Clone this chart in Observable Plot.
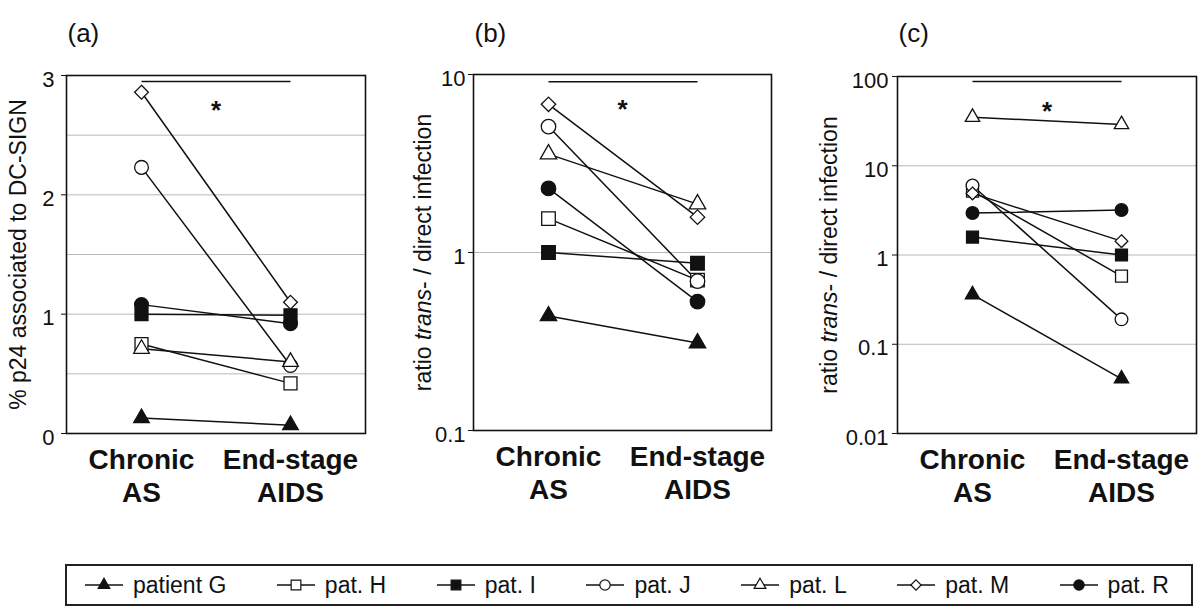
<!DOCTYPE html>
<html><head><meta charset="utf-8">
<script src="https://cdn.jsdelivr.net/npm/d3@7"></script>
<script src="https://cdn.jsdelivr.net/npm/@observablehq/plot@0.6"></script>
<style>
html,body{margin:0;padding:0;background:#fff;}
#chart{position:relative;width:1200px;height:612px;font-family:"Liberation Sans",Arial,sans-serif;color:#111;overflow:hidden;}
.panel{position:absolute;top:0;}
#legend{position:absolute;left:65px;top:564px;width:1128px;height:42px;box-sizing:border-box;border:2px solid #222;display:flex;justify-content:space-between;align-items:center;padding:0 22px 0 18px;font-size:23px;}
.item{display:flex;align-items:center;gap:10px;}
.item svg{display:block;}
</style></head><body>
<div id="chart"><div id="legend"></div></div>
<script>
// ---- data ----
const categories = ["Chronic AS", "End-stage AIDS"];
const categoryLine1 = ["Chronic", "End-stage"];
const categoryLine2 = ["AS", "AIDS"];
const patients = ["G", "H", "I", "J", "L", "M", "R"];
const legendLabels = ["patient G", "pat. H", "pat. I", "pat. J", "pat. L", "pat. M", "pat. R"];
const symbols = ["triangle", "square", "square", "circle", "triangle", "diamond2", "circle"];
const filled = [true, false, true, false, false, false, true];

// panel (a): % p24 associated to DC-SIGN
const p24Chronic = [0.13, 0.75, 1.00, 2.23, 0.71, 2.86, 1.08];
const p24End     = [0.07, 0.42, 0.99, 0.57, 0.60, 1.10, 0.92];
// panel (b): ratio trans-/direct infection
const ratioBChronic = [0.44, 1.55, 1.00, 5.1, 3.57, 6.8, 2.29];
const ratioBEnd     = [0.31, 0.70, 0.87, 0.69, 1.87, 1.58, 0.53];
// panel (c): ratio trans-/direct infection
const ratioCChronic = [0.36, 5.2, 1.59, 6.0, 35, 4.9, 2.95];
const ratioCEnd     = [0.041, 0.58, 1.0, 0.19, 29, 1.43, 3.19];

const ticksA = [0, 1, 2, 3];
const gridA = [0.5, 1, 1.5, 2, 2.5];
const ticksB = [0.1, 1, 10];
const gridB = [1];
const ticksC = [0.01, 0.1, 1, 10, 100];
const gridC = [0.1, 1, 10];

const sigA = 2.95, sigB = 9.1, sigC = 88;
const panelLetters = ["(a)", "(b)", "(c)"];
const yLabelA = "% p24 associated to DC-SIGN";
const yLabelBC = "ratio trans- / direct infection";

// ---- styles ----
const FONT = "Liberation Sans, Arial, Helvetica, sans-serif";
const baseR = {triangle: 5.8, square: 7.3, circle: 6.9, diamond2: 6.2};

function rowsFor(chronic, end) {
  return patients.flatMap((p, i) => [
    {patient: p, idx: i, cat: categories[0], value: chronic[i]},
    {patient: p, idx: i, cat: categories[1], value: end[i]}
  ]);
}

function makePanel(o) {
  const rows = rowsFor(o.chronic, o.end);
  const marks = [
    Plot.ruleY(o.grid, {stroke: "#b8b8b8", strokeWidth: 1}),
    Plot.frame({stroke: "#111", strokeWidth: 1.6}),
    Plot.link([o.sig], {x1: () => categories[0], x2: () => categories[1], y1: d => d, y2: d => d, stroke: "#111", strokeWidth: 1.6}),
    Plot.text(["*"], {frameAnchor: "top", dy: 25, fontSize: 26, fontWeight: "bold", fill: "#111"}),
    Plot.line(rows, {x: "cat", y: "value", z: "patient", stroke: "#111", strokeWidth: 1.5}),
    ...patients.map((p, i) => Plot.dot(rows.filter(d => d.idx === i), {
      x: "cat", y: "value", symbol: symbols[i],
      r: baseR[symbols[i]] * o.scale,
      fill: filled[i] ? "#111" : "white", stroke: "#111", strokeWidth: 1.3
    })),
    Plot.text(o.ticks, {y: d => d, text: d => String(d), frameAnchor: "left", textAnchor: "end", dx: o.tickDx, dy: 4, fontSize: 22, fill: "#111"}),
    Plot.text(categoryLine1, {x: (d, i) => categories[i], text: d => d, frameAnchor: "bottom", dy: 35, fontSize: 28, fontWeight: "bold", fill: "#111"}),
    Plot.text(categoryLine2, {x: (d, i) => categories[i], text: d => d, frameAnchor: "bottom", dy: 68, fontSize: 28, fontWeight: "bold", fill: "#111"}),
    Plot.text([o.letter], {frameAnchor: "top-left", textAnchor: "start", dx: 1, dy: o.letterDy, fontSize: 26, fill: "#111"}),
    Plot.text([o.ylabel], {frameAnchor: "left", textAnchor: "middle", rotate: -90, dx: o.labelDx, fontSize: 23, fill: "#111"})
  ];
  const plot = Plot.plot({
    width: 400, height: 530,
    marginLeft: o.ml, marginRight: o.mr, marginTop: o.mt, marginBottom: 530 - o.bottom,
    style: {fontFamily: FONT, fontSize: "22px", color: "#111", background: "transparent", overflow: "visible"},
    x: {type: "point", domain: categories, padding: 0.5, axis: null},
    y: {type: o.type, domain: o.domain, ticks: o.ticks, tickSize: 5, tickFormat: () => "", label: null},
    marks
  });
  if (o.italic) {
    d3.select(plot).selectAll("text").filter(function() { return this.textContent === o.ylabel; })
      .each(function() {
        const t = d3.select(this);
        t.text("");
        t.append("tspan").text("ratio ");
        t.append("tspan").attr("font-style", "italic").text("trans");
        t.append("tspan").text("- / direct infection");
      });
  }
  const div = document.createElement("div");
  div.className = "panel";
  div.style.left = o.left + "px";
  div.appendChild(plot);
  document.getElementById("chart").appendChild(div);
}

makePanel({left: 0, ml: 66, mr: 35, mt: 75, bottom: 433, type: "linear", domain: [0, 3],
  chronic: p24Chronic, end: p24End, grid: gridA, ticks: ticksA, sig: sigA, letter: panelLetters[0],
  letterDy: -52, ylabel: yLabelA, labelDx: -48, tickDx: -12, scale: 1, italic: false});
makePanel({left: 400, ml: 73, mr: 29, mt: 74, bottom: 430, type: "log", domain: [0.1, 10],
  chronic: ratioBChronic, end: ratioBEnd, grid: gridB, ticks: ticksB, sig: sigB, letter: panelLetters[1],
  letterDy: -51, ylabel: yLabelBC, labelDx: -50, tickDx: -8, scale: 1.05, italic: true});
makePanel({left: 800, ml: 97, mr: 4, mt: 76, bottom: 433, type: "log", domain: [0.01, 100],
  chronic: ratioCChronic, end: ratioCEnd, grid: gridC, ticks: ticksC, sig: sigC, letter: panelLetters[2],
  letterDy: -53, ylabel: yLabelBC, labelDx: -68, tickDx: -9, scale: 0.92, italic: true});

// ---- legend ----
const legend = d3.select("#legend");
patients.forEach((p, i) => {
  const item = legend.append("div").attr("class", "item");
  const svg = item.append("svg").attr("width", 38).attr("height", 18);
  svg.append("line").attr("x1", 0).attr("x2", 38).attr("y1", 9).attr("y2", 9).attr("stroke", "#111").attr("stroke-width", 1.5);
  const symMap = {triangle: d3.symbolTriangle, square: d3.symbolSquare, circle: d3.symbolCircle, diamond2: d3.symbolDiamond2};
  const r = baseR[symbols[i]] * 0.75;
  svg.append("path").attr("transform", "translate(19,9)")
    .attr("d", d3.symbol(symMap[symbols[i]], Math.PI * r * r)())
    .attr("fill", filled[i] ? "#111" : "white").attr("stroke", "#111").attr("stroke-width", 1.2);
  item.append("span").text(legendLabels[i]);
});
</script>
</body></html>
